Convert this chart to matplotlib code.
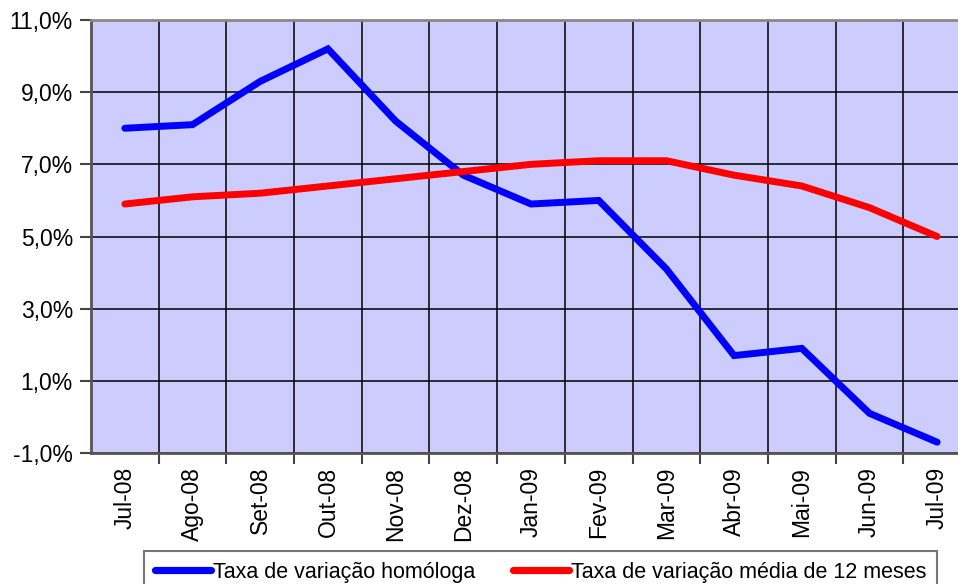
import matplotlib
matplotlib.use("Agg")
import matplotlib.pyplot as plt
from matplotlib.ticker import FuncFormatter

plt.rcParams['font.family'] = ['Liberation Sans', 'DejaVu Sans']

meses = ['Jul-08', 'Ago-08', 'Set-08', 'Out-08', 'Nov-08', 'Dez-08', 'Jan-09',
         'Fev-09', 'Mar-09', 'Abr-09', 'Mai-09', 'Jun-09', 'Jul-09']
homologa = [8.0, 8.1, 9.3, 10.2, 8.2, 6.7, 5.9, 6.0, 4.1, 1.7, 1.9, 0.1, -0.7]
media12 = [5.9, 6.1, 6.2, 6.4, 6.6, 6.8, 7.0, 7.1, 7.1, 6.7, 6.4, 5.8, 5.0]
yticks = [-1, 1, 3, 5, 7, 9, 11]

W, H = 958, 584
fig = plt.figure(figsize=(W / 100, H / 100), dpi=100)
# plot area runs a bit past the right edge of the image, like the original
ax = fig.add_axes([91 / W, (H - 453) / H, 880 / W, 433 / H])
ax.set_facecolor('#CCCCFF')

x = list(range(len(meses)))
ax.plot(x, homologa, color='#0000FF', lw=5, solid_capstyle='round',
        solid_joinstyle='miter', label='Taxa de variação homóloga', zorder=3)
ax.plot(x, media12, color='#FF0000', lw=5, solid_capstyle='round',
        solid_joinstyle='miter', label='Taxa de variação média de 12 meses', zorder=3)

ax.set_xlim(-0.5, len(meses) - 0.5)
ax.set_ylim(-1, 11)

ax.set_yticks(yticks)
ax.yaxis.set_major_formatter(FuncFormatter(lambda v, p: f"{v:.1f}%".replace('.', ',')))
ax.set_xticks(x)
ax.set_xticklabels(meses, rotation=90)
ax.set_xticks([i + 0.5 for i in x[:-1]], minor=True)

ax.tick_params(axis='y', labelsize=16.5, length=8, width=1.5, color='#444444', pad=5)
ax.tick_params(axis='x', which='major', labelsize=16.5, length=0, pad=10)
ax.tick_params(axis='x', which='minor', length=8, width=1.5, color='#444444')

ax.grid(True, which='minor', axis='x', color='black', lw=1.1, zorder=1)
ax.grid(True, which='major', axis='y', color='black', lw=1.1, zorder=1)
ax.set_axisbelow(True)

for s in ['left', 'bottom']:
    ax.spines[s].set_color('#555555')
    ax.spines[s].set_linewidth(2)
ax.spines['top'].set_color('#888888')
ax.spines['top'].set_linewidth(2)
ax.spines['right'].set_visible(False)

leg = fig.legend(loc='upper left', bbox_to_anchor=(144 / W, 1 - 551 / H), ncol=2,
                 fontsize=15.5, frameon=True, fancybox=False, edgecolor='#555555',
                 handlelength=2.6, handletextpad=0.1, columnspacing=1.75,
                 borderpad=0.5, borderaxespad=0)
leg.get_frame().set_linewidth(1.5)
for ln in leg.get_lines():
    ln.set_linewidth(5.2)

fig.savefig('out.png', dpi=100)
